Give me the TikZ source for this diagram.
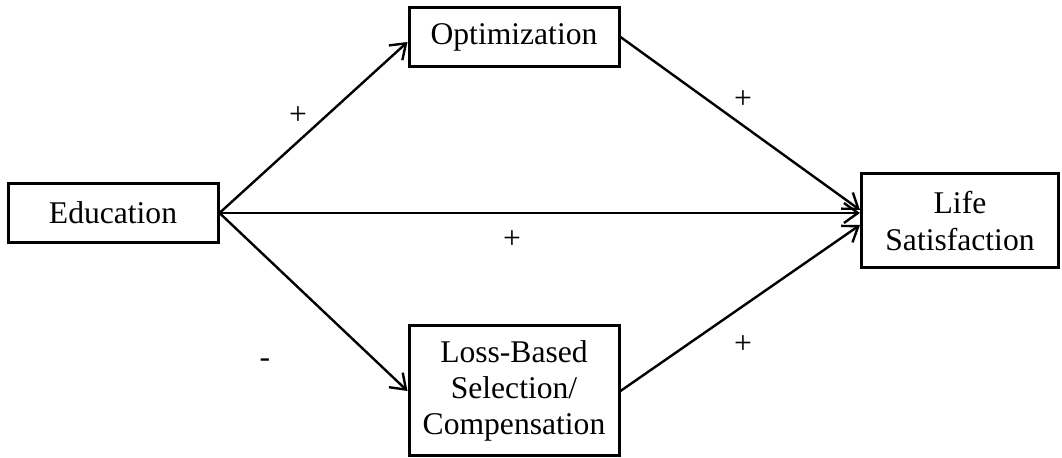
\documentclass[tikz,border=0pt]{standalone}
\usepackage{fontspec}
\setmainfont{Liberation Serif}
\usetikzlibrary{arrows.meta}
\tikzset{
  box/.style = {draw, line width=1.5pt, align=center, inner sep=0pt,
                font=\fontsize{15.8}{18.2}\selectfont},
  path/.style = {line width=1.2pt, -{Straight Barb[length=7pt, width=10pt, line width=1.2pt]}},
  sign/.style = {font=\fontsize{15.8}{18.2}\selectfont}
}
\begin{document}
\begin{tikzpicture}[x=0.5pt, y=-0.5pt]
\useasboundingbox (0,0) rectangle (1062,458);
% boxes
\node[box, minimum width=105pt, minimum height=29.5pt] (edu) at (113,213) {Education};
\node[box, minimum width=105pt, minimum height=29.5pt] (opt) at (514,37) {Optimization};
\node[box, minimum width=98.5pt, minimum height=47pt] (life) at (960,221) {Life\\Satisfaction};
\node[box, minimum width=105pt, minimum height=65pt] (loss) at (514,391) {Loss-Based\\Selection/\\Compensation};

% paths
\draw[path] (edu.east) -- ([yshift=-2.5pt]opt.west);
\draw[path] (edu.east) -- ([yshift=4pt]life.west);
\draw[path] (edu.east) -- (loss.west);
\draw[path] (opt.east) -- ([yshift=5.5pt]life.west);
\draw[path] (loss.east) -- ([yshift=-2pt]life.west);

% signs
\node[sign] (s1) at (298,116) {+};
\node[sign] (s2) at (743,100) {+};
\node[sign] (s3) at (512,240) {+};
\node[sign] (s4) at (265,363) {-};
\node[sign] (s5) at (743,345) {+};
\end{tikzpicture}
\end{document}
